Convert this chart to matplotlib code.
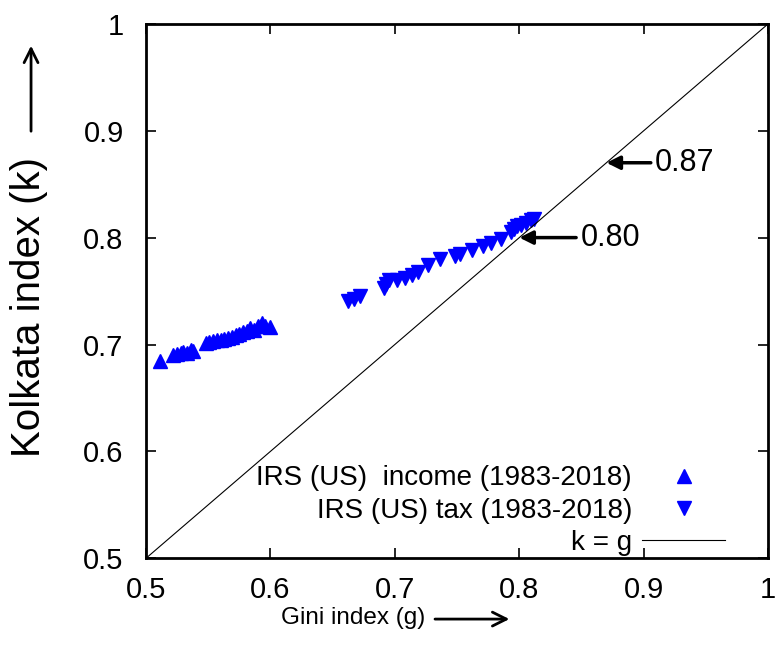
import numpy as np
import matplotlib
matplotlib.use('Agg')
import matplotlib.pyplot as plt

plt.rcParams['font.family'] = ['Liberation Sans', 'DejaVu Sans']

# IRS (US) income (1983-2018): Gini g vs Kolkata k
g_income = [0.511, 0.522, 0.525, 0.528, 0.530, 0.533, 0.536, 0.538, 0.548, 0.551,
            0.554, 0.557, 0.560, 0.563, 0.566, 0.569, 0.572, 0.575, 0.578, 0.581,
            0.584, 0.587, 0.590, 0.593, 0.596, 0.600]
k_income = [0.685, 0.690, 0.691, 0.692, 0.693, 0.692, 0.695, 0.694, 0.701, 0.702,
            0.703, 0.704, 0.704, 0.705, 0.706, 0.707, 0.709, 0.710, 0.712, 0.713,
            0.715, 0.714, 0.717, 0.720, 0.717, 0.716]

# IRS (US) tax (1983-2018)
g_tax = [0.662, 0.667, 0.672, 0.691, 0.693, 0.695, 0.702, 0.708, 0.714, 0.719,
         0.727, 0.736, 0.748, 0.752, 0.762, 0.771, 0.777, 0.785, 0.793, 0.796,
         0.798, 0.801, 0.805, 0.809, 0.812]
k_tax = [0.741, 0.743, 0.745, 0.753, 0.757, 0.760, 0.760, 0.762, 0.765, 0.768,
         0.774, 0.780, 0.783, 0.785, 0.788, 0.792, 0.795, 0.799, 0.805, 0.808,
         0.811, 0.812, 0.814, 0.816, 0.817]

ticks = [0.5, 0.6, 0.7, 0.8, 0.9, 1.0]
tick_labels = ['0.5', '0.6', '0.7', '0.8', '0.9', '1']
marks = [0.87, 0.80]
mark_offsets = [0.039, 0.049]

fig = plt.figure(figsize=(7.76, 6.6), dpi=100)
ax = fig.add_axes([0.188, 0.154, 0.802, 0.81])

ax.plot(g_income, k_income, '^', color='#0000ff', markersize=10.5, linestyle='none',
        label='IRS (US)  income (1983-2018)')
ax.plot(g_tax, k_tax, 'v', color='#0000ff', markersize=10.5, linestyle='none',
        label='IRS (US) tax (1983-2018)')
ax.plot([0.5, 1.0], [0.5, 1.0], color='black', linewidth=0.8, label='k = g')

# arrows pointing to the diagonal
for m, off in zip(marks, mark_offsets):
    ax.annotate('%.2f' % m, xy=(m, m), xytext=(m + off, m),
                fontsize=22, va='center', ha='left',
                arrowprops=dict(arrowstyle='-|>', color='black', lw=2.5,
                                mutation_scale=20, shrinkA=1, shrinkB=0))

ax.set_xlim(0.5, 1.0)
ax.set_ylim(0.5, 1.0)
ax.set_xticks(ticks)
ax.set_xticklabels(tick_labels)
ax.set_yticks(ticks)
ax.set_yticklabels(tick_labels)
ax.tick_params(direction='in', length=7, width=1.2, labelsize=21, top=True, right=True)
ax.tick_params(axis='x', pad=13)
ax.tick_params(axis='y', pad=16)
for s in ax.spines.values():
    s.set_linewidth(2)

leg = ax.legend(loc='lower right', bbox_to_anchor=(0.931, 0.005), frameon=False,
                markerfirst=False, fontsize=20, handlelength=3.0, handletextpad=0.36,
                labelspacing=0.22, borderpad=0, borderaxespad=0)
for t in leg.get_texts():
    t.set_ha('right')

# axis labels with arrows
fig.text(0.038, 0.535, 'Kolkata index (k)', rotation=90, fontsize=29, ha='center', va='center')
fig.text(0.455, 0.064, 'Gini index (g)', fontsize=17.5, ha='center', va='center')
fig.patches.append(matplotlib.patches.FancyArrowPatch((0.040, 0.797), (0.040, 0.935),
                   transform=fig.transFigure, arrowstyle='->', mutation_scale=25, lw=2, color='black'))
fig.patches.append(matplotlib.patches.FancyArrowPatch((0.557, 0.062), (0.66, 0.062),
                   transform=fig.transFigure, arrowstyle='->', mutation_scale=25, lw=2, color='black'))

fig.savefig('out.png', dpi=100)
